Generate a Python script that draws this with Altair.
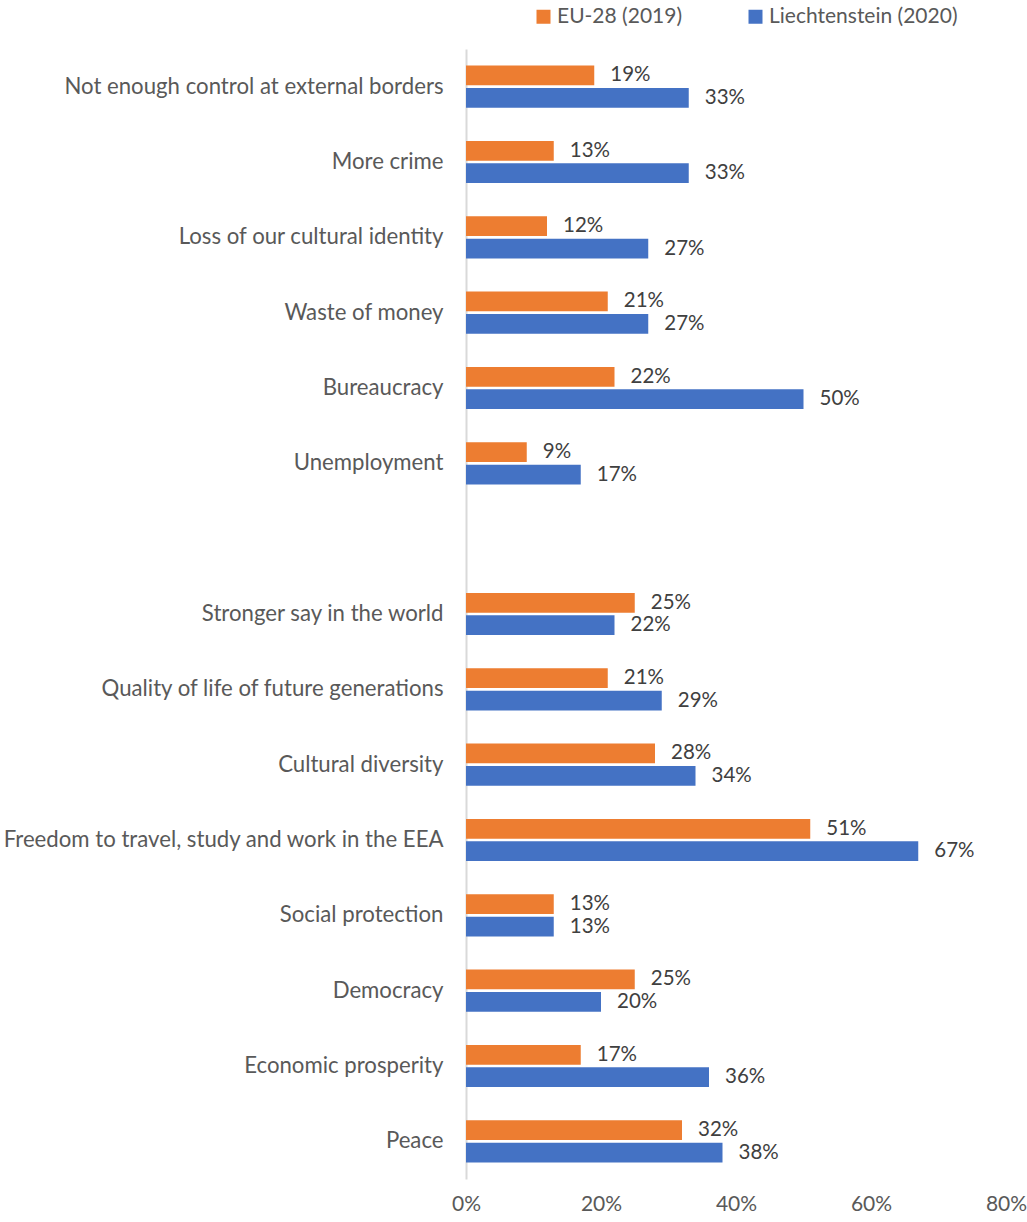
import altair as alt
import pandas as pd

categories = [
    "Not enough control at external borders",
    "More crime",
    "Loss of our cultural identity",
    "Waste of money",
    "Bureaucracy",
    "Unemployment",
    "Stronger say in the world",
    "Quality of life of future generations",
    "Cultural diversity",
    "Freedom to travel, study and work in the EEA",
    "Social protection",
    "Democracy",
    "Economic prosperity",
    "Peace",
]
eu_values = [19, 13, 12, 21, 22, 9, 25, 21, 28, 51, 13, 25, 17, 32]
li_values = [33, 33, 27, 27, 50, 17, 22, 29, 34, 67, 13, 20, 36, 38]
series_names = ["EU-28 (2019)", "Liechtenstein (2020)"]
series_colors = ["#ED7D31", "#4472C4"]
x_ticks = [0, 20, 40, 60, 80]
gap_label = " "

rows = []
for cat, eu, li in zip(categories, eu_values, li_values):
    rows.append({"category": cat, "series": series_names[0], "value": eu, "label": f"{eu}%"})
    rows.append({"category": cat, "series": series_names[1], "value": li, "label": f"{li}%"})
df = pd.DataFrame(rows)

domain = categories[:6] + [gap_label] + categories[6:]
FONT = "Lato"

y_enc = alt.Y(
    "category:N",
    sort=domain,
    scale=alt.Scale(domain=domain, paddingInner=0.44, paddingOuter=0.22),
    axis=alt.Axis(
        title=None,
        ticks=False,
        labelFontSize=22.2,
        labelFont=FONT,
        labelColor="#595959",
        labelPadding=23,
        domainColor="#d9d9d9",
        domainWidth=2,
        labelLimit=600,
    ),
)
yoff_enc = alt.YOffset("series:N", sort=series_names, scale=alt.Scale(domain=series_names, paddingInner=0.12))
x_enc = alt.X(
    "value:Q",
    scale=alt.Scale(domain=[0, 80], nice=False),
    axis=alt.Axis(
        title=None,
        values=x_ticks,
        labelExpr="datum.value + '%'",
        grid=False,
        domain=False,
        ticks=False,
        labelFlush=False,
        labelAlign="center",
        labelFontSize=21,
        labelFont=FONT,
        labelColor="#595959",
        labelPadding=14,
    ),
)

bars = alt.Chart(df).mark_bar().encode(
    x=x_enc,
    y=y_enc,
    yOffset=yoff_enc,
    color=alt.Color(
        "series:N",
        scale=alt.Scale(domain=series_names, range=series_colors),
        legend=alt.Legend(
            title=None,
            orient="none",
            legendX=67,
            legendY=-43,
            direction="horizontal",
            symbolType="square",
            symbolSize=196,
            symbolStrokeWidth=0,
            symbolOpacity=1,
            labelFontSize=21,
            labelFont=FONT,
            labelColor="#595959",
            labelOffset=3,
            labelLimit=400,
            columnPadding=62,
            padding=0,
        ),
    ),
)

labels = alt.Chart(df).mark_text(
    align="left", baseline="middle", dx=16, fontSize=20.5, font=FONT, color="#404040"
).encode(
    x="value:Q",
    y=alt.Y("category:N", sort=domain),
    yOffset=alt.YOffset("series:N", sort=series_names),
    text="label:N",
)

chart = (
    alt.layer(bars, labels)
    .properties(
        width=540,
        height=1130,
        background="white",
        autosize=alt.AutoSizeParams(type="none"),
        padding={"left": 466, "top": 49, "right": 21, "bottom": 43},
    )
    .configure_view(stroke="transparent", strokeWidth=0)
)

chart.save("out.html", embed_options={"renderer": "svg", "actions": False})
